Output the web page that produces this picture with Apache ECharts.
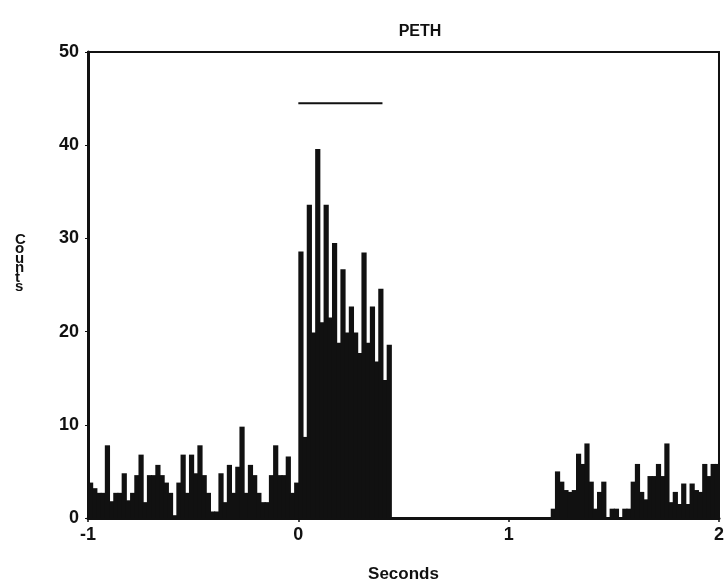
<!DOCTYPE html>
<html>
<head>
<meta charset="utf-8">
<title>PETH</title>
<script src="https://cdn.jsdelivr.net/npm/echarts@6/dist/echarts.min.js"></script>
<style>
  html, body { margin: 0; padding: 0; background: #fff; }
  #peth { width: 727px; height: 588px; }
</style>
</head>
<body>
<div id="peth"></div>
<script>
// bins of 20 ms, starting at -1 s
const binStart = -1;
const binWidth = 0.02;

// -1 .. 0 s (50 bins)
const countsPre = [3.8, 3.2, 2.7, 2.7, 7.8, 1.8, 2.7, 2.7, 4.8, 1.9,
                   2.7, 4.6, 6.8, 1.7, 4.6, 4.6, 5.7, 4.6, 3.8, 2.7,
                   0.3, 3.8, 6.8, 2.7, 6.8, 4.8, 7.8, 4.6, 2.7, 0.7,
                   0.7, 4.8, 1.7, 5.7, 2.7, 5.5, 9.8, 2.7, 5.7, 4.6,
                   2.7, 1.7, 1.7, 4.6, 7.8, 4.6, 4.6, 6.6, 2.7, 3.8];
// 0 .. 0.44 s (22 bins)
const countsStim = [28.6, 8.7, 33.6, 19.9, 39.6, 21, 33.6, 21.5, 29.5, 18.8,
                    26.7, 19.9, 22.7, 19.9, 17.7, 28.5, 18.8, 22.7, 16.8, 24.6,
                    14.8, 18.6];
// 0.44 .. 1.2 s (38 bins, silent)
const countsGap = [0, 0, 0, 0, 0, 0, 0, 0, 0, 0,
                   0, 0, 0, 0, 0, 0, 0, 0, 0, 0,
                   0, 0, 0, 0, 0, 0, 0, 0, 0, 0,
                   0, 0, 0, 0, 0, 0, 0, 0];
// 1.2 .. 2 s (40 bins)
const countsPost = [1, 5, 3.9, 3, 2.8, 3, 6.9, 5.8, 8, 3.9,
                    1, 2.8, 3.9, 0, 1, 1, 0, 1, 1, 3.9,
                    5.8, 2.8, 2, 4.5, 4.5, 5.8, 4.5, 8, 1.7, 2.8,
                    1.5, 3.7, 1.5, 3.7, 3, 2.8, 5.8, 4.5, 5.8, 5.8];

// stimulus marker
const stimBar = [[0, 44.5], [0.4, 44.5]];

const counts = countsPre.concat(countsStim, countsGap, countsPost);
const bins = counts.map((v, i) => [binStart + i * binWidth, v]);

const font = '"Liberation Sans", Arial, sans-serif';

let chart = echarts.init(document.getElementById('peth'));

chart.setOption({
    animation: false,
    backgroundColor: '#fff',
    title: {
        text: 'PETH',
        left: 415,
        top: 19,
        textAlign: 'center',
        textStyle: { fontFamily: font, fontSize: 16, fontWeight: 'bold', color: '#111' }
    },
    // stacked "Counts" label, letters upright
    graphic: [{
        type: 'text',
        left: 15,
        top: 232,
        style: {
            text: 'C\no\nu\nn\nt\ns',
            font: 'bold 15px ' + font,
            lineHeight: 9.5,
            fill: '#111',
            align: 'center'
        }
    }],
    grid: {
        left: 88, right: 5, top: 52, bottom: 68,
        show: true, borderColor: '#111', borderWidth: 2
    },
    xAxis: {
        type: 'value',
        min: -1, max: 2, interval: 1,
        name: 'Seconds',
        nameLocation: 'middle',
        nameGap: 48,
        nameTextStyle: { fontFamily: font, fontSize: 17, fontWeight: 'bold', color: '#111' },
        axisLine: { onZero: false, lineStyle: { color: '#111', width: 3 } },
        axisTick: { show: true, length: 4, lineStyle: { color: '#111', width: 1.5 } },
        axisLabel: { fontFamily: font, fontSize: 18, fontWeight: 'bold', color: '#111', margin: 8 },
        splitLine: { show: false }
    },
    yAxis: {
        type: 'value',
        min: 0, max: 50, interval: 10,
        axisLine: { onZero: false, lineStyle: { color: '#111', width: 3 } },
        axisTick: { show: true, length: 3, lineStyle: { color: '#111', width: 1 } },
        axisLabel: { fontFamily: font, fontSize: 18, fontWeight: 'bold', color: '#111', margin: 9 },
        splitLine: { show: false }
    },
    series: [
        {
            name: 'Counts',
            type: 'custom',
            data: bins,
            renderItem: function (params, api) {
                let x0 = api.value(0);
                let v = api.value(1);
                let p0 = api.coord([x0, 0]);
                let p1 = api.coord([x0 + binWidth, v]);
                return {
                    type: 'rect',
                    shape: { x: p0[0], y: p1[1], width: p1[0] - p0[0] + 1, height: p0[1] - p1[1] },
                    style: { fill: '#111' }
                };
            },
            encode: { x: 0, y: 1 }
        },
        {
            name: 'Stimulus',
            type: 'line',
            data: stimBar,
            symbol: 'none',
            lineStyle: { color: '#111', width: 2 }
        }
    ]
});
</script>
</body>
</html>
